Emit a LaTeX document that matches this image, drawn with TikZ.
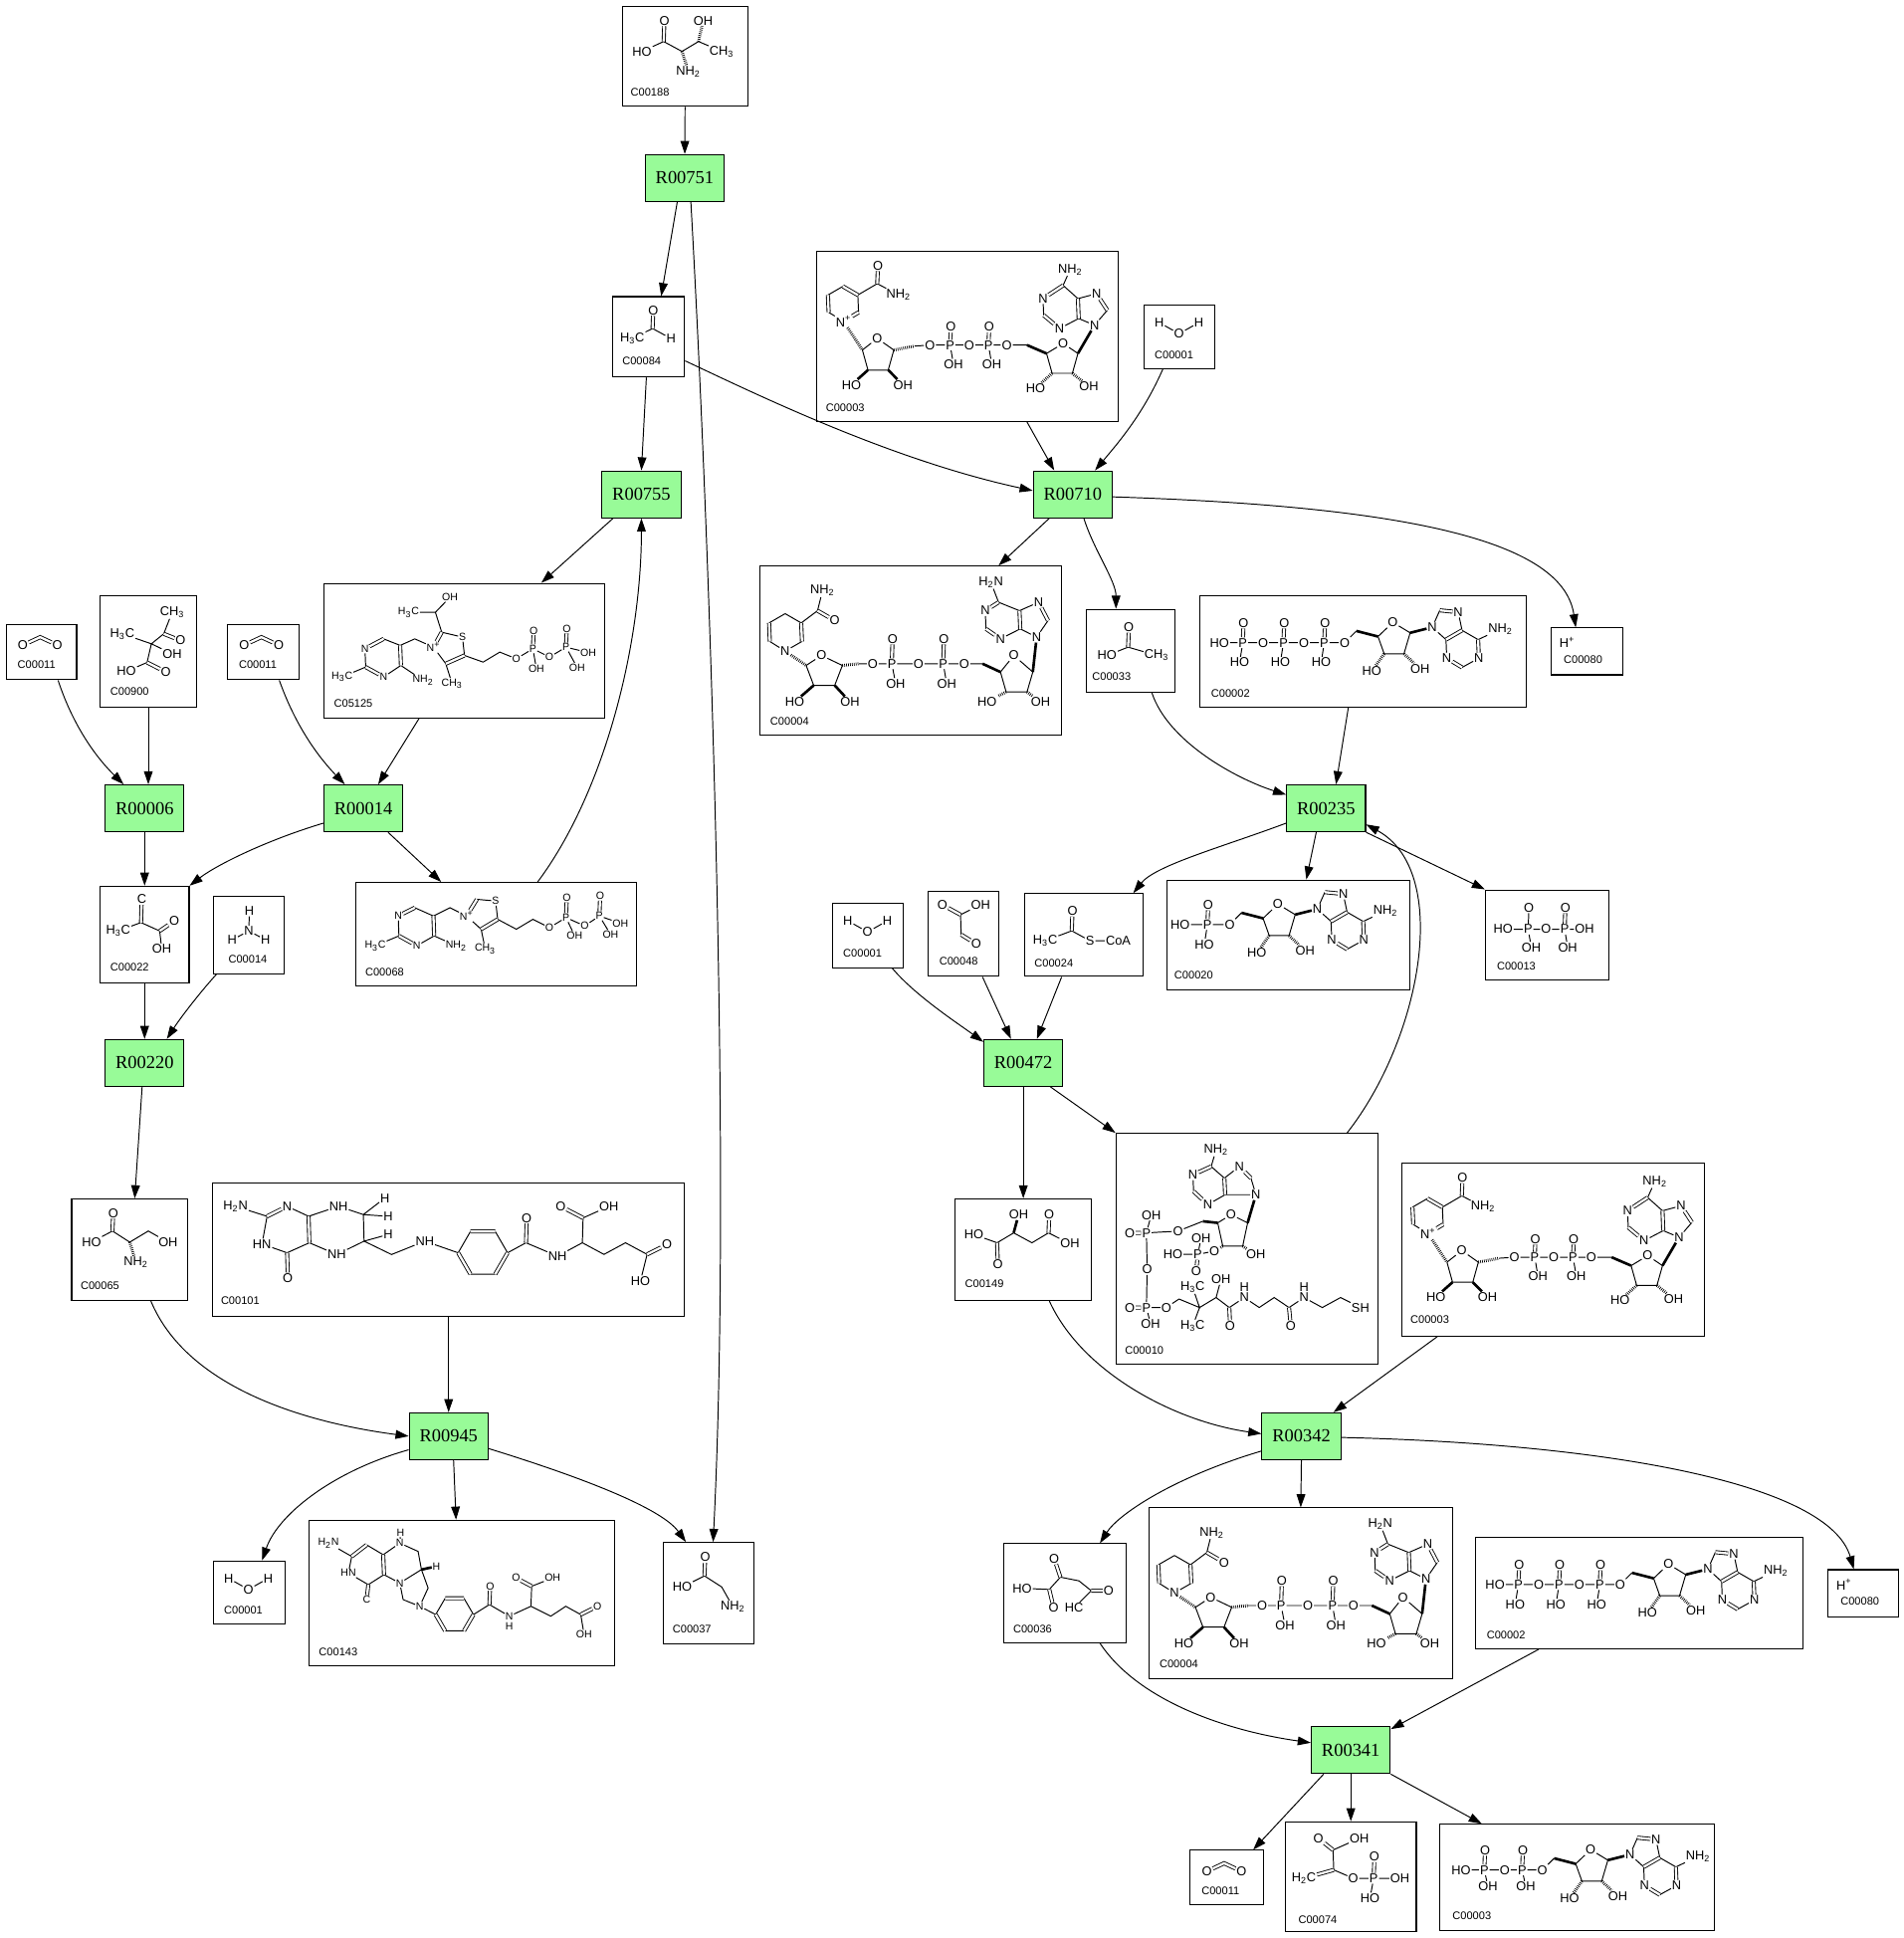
\documentclass[tikz,border=0pt]{standalone}
\usepackage{fontspec}
\setmainfont{Liberation Serif}
\newfontfamily\sansf{Liberation Sans}
\usepackage{tikz}
\usetikzlibrary{fit,calc,arrows.meta}
\definecolor{rgreen}{HTML}{98FB98}
\newcommand\rfont{\fontsize{10.5}{12}\selectfont\rmfamily}
\newcommand\idfont{\fontsize{6.3}{7}\selectfont\sansf}
\newcommand\atomfont{\fontsize{7.3}{8}\selectfont\sansf}
\newcommand\atomsfont{\fontsize{6}{7}\selectfont\sansf}
\newcommand\ssub[1]{\textsubscript{#1}}
\newcommand\ssup[1]{\textsuperscript{#1}}
\tikzset{
  reac/.style={draw, line width=0.6pt, fill=rgreen, minimum width=45.1pt, minimum height=26.8pt, inner sep=0pt, font=\rfont},
  cpd/.style={draw, line width=0.6pt, inner sep=0pt},
  cid/.style={font=\idfont, anchor=base west, inner sep=0pt},
  atom/.style={font=\atomfont, inner sep=0.4pt},
  atoms/.style={font=\atomsfont, inner sep=0.3pt},
  bond/.style={line width=0.55pt},
  dbl/.style={double, double distance=1.3pt, line width=0.5pt},
  wedge/.style={line width=1.5pt},
  hash/.style={line width=1.7pt, dash pattern=on 0.4pt off 0.7pt},
  arr/.style={-{Triangle[length=7.5pt,width=5pt]}, line width=0.55pt},
}
\newcommand\cpdbox[5]{\node[cpd, fit={(#2,#3) (#4,#5)}] (#1) {};}
% small molecules used more than once
\newcommand\water{%
  \node[atom] (h1) at (12,14) {H};
  \node[atom] (o) at (28,23) {O};
  \node[atom] (h2) at (44,14) {H};
  \draw[bond] (h1) -- (o) -- (h2);
  \node[cid] at (8,43) {C00001};}
\newcommand\carbdiox{%
  \node[atom] (o1) at (13.5,17) {O};
  \coordinate (c) at (27.5,10.5);
  \node[atom] (o2) at (41.5,17) {O};
  \draw[dbl] (o1) -- (c) -- (o2);
  \node[cid] at (9,36) {C00011};}
\newcommand\hplus{%
  \node[atom, anchor=west] at (6,12) {H\ssup{+}};
  \node[cid] at (10,29) {C00080};}
% adenosine, starting at the 5' oxygen #1
\newcommand\adenosine[1]{%
  \coordinate (r5) at (9.5,-9.5);
  \coordinate (r4) at (27,-5);
  \node[atom] (ro) at (39,-16.5) {O};
  \coordinate (r1) at (53,-8);
  \coordinate (r2) at (48,9);
  \coordinate (r3) at (32,9);
  \node[atom] (rh3) at (22,23) {HO};
  \node[atom] (rh2) at (61,21) {OH};
  \node[atom] (n9) at (70.9,-12.5) {N};
  \coordinate (c8) at (77,-26.2);
  \node[atom] (n7) at (91.9,-24.7) {N};
  \coordinate (c5) at (95,-10);
  \coordinate (c4) at (82,-2.5);
  \coordinate (c6) at (108,-2.5);
  \node[atom] (n1) at (108.6,12.5) {N};
  \coordinate (c2) at (95,20);
  \node[atom] (n3) at (82.6,12.5) {N};
  \node[atom] (nh) at (126,-11) {NH\ssub2};
  \draw[bond] (#1) -- (r5) (r4) -- (ro) -- (r1) -- (r2) -- (r3) -- (r4);
  \draw[wedge] (r5) -- (r4) (r1) -- (n9);
  \draw[hash] (r3) -- (rh3) (r2) -- (rh2);
  \draw[bond] (n9) -- (c8) (n7) -- (c5) (c4) -- (n9) (c5) -- (c6) (n1) -- (c2) (n3) -- (c4) (c6) -- (nh);
  \draw[dbl] (c8) -- (n7) (c4) -- (c5) (c6) -- (n1) (c2) -- (n3);}
\newcommand\atp{%
  \node[atom] (h0) at (15.7,38) {HO};
  \node[atom] (p1) at (34.6,38) {P};
  \node[atom] (q1) at (51.1,38) {O};
  \node[atom] (p2) at (67.5,38) {P};
  \node[atom] (q2) at (84,38) {O};
  \node[atom] (p3) at (100.5,38) {P};
  \node[atom] (q3) at (117,38) {O};
  \node[atom] (t1) at (35.2,22) {O};
  \node[atom] (t2) at (68.1,22) {O};
  \node[atom] (t3) at (101.1,22) {O};
  \node[atom] (u1) at (32,54) {HO};
  \node[atom] (u2) at (65,54) {HO};
  \node[atom] (u3) at (98,54) {HO};
  \draw[bond] (h0) -- (p1) -- (q1) -- (p2) -- (q2) -- (p3) -- (q3) (p1) -- (u1) (p2) -- (u2) (p3) -- (u3);
  \draw[dbl] (p1) -- (t1) (p2) -- (t2) (p3) -- (t3);
  \begin{scope}[shift={(117,38)}]\adenosine{q3}\end{scope}
  \node[cid] at (8.7,82) {C00002};}
\newcommand\nadplus{%
  \coordinate (a1) at (21,28.7);
  \coordinate (a2) at (33.1,35.7);
  \coordinate (a3) at (33.7,49.7);
  \node[atom] (np) at (21.5,57) {N\ssup{+}};
  \coordinate (a5) at (9.5,49.7);
  \coordinate (a6) at (8.9,35.7);
  \coordinate (k) at (48.8,26.5);
  \node[atom] (o) at (49.4,11.8) {O};
  \node[atom] (nh) at (66,35.5) {NH\ssub2};
  \draw[bond] (a2) -- (a3) (np) -- (a5) (a6) -- (a1) (a2) -- (k) -- (nh);
  \draw[dbl] (a1) -- (a2) (a3) -- (np) (a5) -- (a6) (k) -- (o);
  \node[atom] (ro) at (48.8,70.8) {O};
  \coordinate (r1) at (36.8,80.2);
  \coordinate (r2) at (41.3,96.4);
  \coordinate (r3) at (57.7,96.4);
  \coordinate (r4) at (62.2,80.2);
  \draw[bond] (r1) -- (ro) -- (r4) -- (r3) -- (r2) -- (r1);
  \draw[hash] (np) -- (r1);
  \node[atom] (h2) at (27.9,108.4) {HO};
  \node[atom] (h3) at (69.6,108.4) {OH};
  \draw[wedge] (r2) -- (h2) (r3) -- (h3);
  \coordinate (m) at (79,77);
  \node[atom] (q1) at (91.4,76.2) {O};
  \node[atom] (p1) at (107.8,76.2) {P};
  \node[atom] (q2) at (123.3,76.2) {O};
  \node[atom] (p2) at (138.8,76.2) {P};
  \node[atom] (q3) at (153.6,76.2) {O};
  \node[atom] (t1) at (108.4,61.5) {O};
  \node[atom] (u1) at (110.5,91.8) {OH};
  \node[atom] (t2) at (139.4,61.5) {O};
  \node[atom] (u2) at (141.5,91.8) {OH};
  \coordinate (s5) at (170,76.2);
  \draw[hash] (r4) -- (m);
  \draw[bond] (m) -- (q1) -- (p1) -- (q2) -- (p2) -- (q3) -- (s5) (p1) -- (u1) (p2) -- (u2);
  \draw[dbl] (p1) -- (t1) (p2) -- (t2);
  \node[atom] (so) at (199.2,74.9) {O};
  \coordinate (s4) at (185.8,83);
  \coordinate (s3) at (190.3,99);
  \coordinate (s2) at (206.7,99);
  \coordinate (s1) at (211.2,83);
  \draw[wedge] (s5) -- (s4);
  \draw[bond] (s4) -- (so) -- (s1) -- (s2) -- (s3) -- (s4);
  \node[atom] (g3) at (176.9,111.1) {HO};
  \node[atom] (g2) at (220.1,109.8) {OH};
  \draw[hash] (s3) -- (g3) (s2) -- (g2);
  \coordinate (b6) at (199.2,27.9);
  \node[atom] (bn) at (205,15) {NH\ssub2};
  \node[atom] (b1) at (182.9,38.6) {N};
  \coordinate (b2) at (183.5,52.1);
  \node[atom] (b3) at (196.3,62.8) {N};
  \coordinate (b4) at (211.8,54.7);
  \coordinate (b5) at (211.2,38.6);
  \node[atom] (b7) at (226.2,34.6) {N};
  \coordinate (b8) at (235,48);
  \node[atom] (b9) at (224.6,60.1) {N};
  \draw[bond] (b6) -- (bn) (b1) -- (b2) (b3) -- (b4) (b5) -- (b6) (b5) -- (b7) (b8) -- (b9) -- (b4);
  \draw[dbl] (b6) -- (b1) (b2) -- (b3) (b4) -- (b5) (b7) -- (b8);
  \draw[wedge] (b9) -- (s1);
  \node[cid] at (7,130) {C00003};}
\newcommand\nadh{%
  \coordinate (a1) at (20.3,38.5);
  \coordinate (a2) at (33.3,46);
  \coordinate (a3) at (33.9,61);
  \node[atom] (na) at (20.3,68.8) {N};
  \coordinate (a5) at (7.9,61);
  \coordinate (a6) at (7.3,46);
  \coordinate (k) at (46.5,36.1);
  \node[atom] (nh) at (50.5,20) {NH\ssub2};
  \node[atom] (o) at (60.4,44.1) {O};
  \draw[bond] (a1) -- (a2) (a3) -- (na) -- (a5) (a6) -- (a1) (a2) -- (k) -- (nh);
  \draw[dbl] (a2) -- (a3) (a5) -- (a6) (k) -- (o);
  \node[atom] (ro) at (49.6,72.3) {O};
  \coordinate (r1) at (37.3,80.4);
  \coordinate (r2) at (43.4,96.5);
  \coordinate (r3) at (60.4,96.5);
  \coordinate (r4) at (66.6,80.4);
  \draw[bond] (r1) -- (ro) -- (r4) -- (r3) -- (r2) -- (r1);
  \draw[hash] (na) -- (r1);
  \node[atom] (h2) at (28,109.9) {HO};
  \node[atom] (h3) at (72.7,109.9) {OH};
  \draw[wedge] (r2) -- (h2) (r3) -- (h3);
  \coordinate (m) at (80,79);
  \node[atom] (q1) at (91.2,79) {O};
  \node[atom] (p1) at (106.6,79) {P};
  \node[atom] (t1) at (107.2,58.9) {O};
  \node[atom] (u1) at (109.7,95.1) {OH};
  \node[atom] (q2) at (128.2,79) {O};
  \node[atom] (p2) at (148.2,79) {P};
  \node[atom] (t2) at (148.8,58.9) {O};
  \node[atom] (u2) at (151,95.1) {OH};
  \node[atom] (q3) at (165.2,79) {O};
  \coordinate (s5) at (180,79);
  \draw[hash] (r4) -- (m);
  \draw[bond] (m) -- (q1) -- (p1) -- (q2) -- (p2) -- (q3) -- (s5) (p1) -- (u1) (p2) -- (u2);
  \draw[dbl] (p1) -- (t1) (p2) -- (t2);
  \node[atom] (so) at (205.3,72.3) {O};
  \coordinate (s4) at (194.5,85.7);
  \coordinate (s3) at (199.1,101.8);
  \coordinate (s2) at (216,101.8);
  \coordinate (s1) at (220.7,85.7);
  \draw[wedge] (s5) -- (s4);
  \draw[bond] (s4) -- (so) -- (s1) -- (s2) -- (s3) -- (s4);
  \node[atom] (g3) at (183.7,109.9) {HO};
  \node[atom] (g2) at (226.9,109.9) {OH};
  \draw[hash] (s3) -- (g3) (s2) -- (g2);
  \node[atom] (bn) at (186.8,13.2) {H\ssub2N};
  \coordinate (b6) at (193,29.3);
  \node[atom] (b1) at (182.2,36.1) {N};
  \coordinate (b2) at (182.8,50.8);
  \node[atom] (b3) at (194.5,58.9) {N};
  \coordinate (b4) at (210.5,50.8);
  \coordinate (b5) at (209.9,36.1);
  \node[atom] (b7) at (225.3,29.3) {N};
  \coordinate (b8) at (233,44.1);
  \node[atom] (b9) at (223.8,57.5) {N};
  \draw[bond] (b6) -- (bn) (b1) -- (b2) (b3) -- (b4) (b5) -- (b6) (b5) -- (b7) (b8) -- (b9) -- (b4);
  \draw[dbl] (b6) -- (b1) (b2) -- (b3) (b4) -- (b5) (b7) -- (b8);
  \draw[wedge] (b9) -- (s1);
  \node[cid] at (8,129) {C00004};}

\begin{document}
\begin{tikzpicture}[x=0.02483cm, y=-0.02483cm]
  \useasboundingbox (0,0) rectangle (1540,1568);

  % reactions
  \node[reac] (r00751) at (554,144) {R00751};
  \node[reac] (r00755) at (519,400) {R00755};
  \node[reac] (r00710) at (868,400) {R00710};
  \node[reac] (r00006) at (117,654) {R00006};
  \node[reac] (r00014) at (294,654) {R00014};
  \node[reac] (r00235) at (1073,654) {R00235};
  \node[reac] (r00220) at (117,860) {R00220};
  \node[reac] (r00472) at (828,860) {R00472};
  \node[reac] (r00945) at (363,1162) {R00945};
  \node[reac] (r00342) at (1053,1162) {R00342};
  \node[reac] (r00341) at (1093,1416) {R00341};

  % compounds
  \cpdbox{c00188}{504}{5}{605}{86}
  \cpdbox{c00084}{496}{240}{554}{305}
  \cpdbox{c00003a}{661}{203}{905}{341}
  \cpdbox{c00001a}{926}{247}{983}{298}
  \cpdbox{c00004a}{615}{458}{859}{595}
  \cpdbox{c00033}{879}{493}{951}{560}
  \cpdbox{c00002a}{971}{482}{1235}{572}
  \cpdbox{c00080a}{1255}{508}{1313}{546}
  \cpdbox{c00011a}{5}{505}{62}{550}
  \cpdbox{c00900}{81}{482}{159}{572}
  \cpdbox{c00011b}{184}{505}{242}{550}
  \cpdbox{c05125}{262}{472}{489}{581}
  \cpdbox{c00022}{81}{717}{153}{795}
  \cpdbox{c00014}{173}{725}{230}{788}
  \cpdbox{c00068}{288}{714}{515}{798}
  \cpdbox{c00001b}{674}{731}{731}{783}
  \cpdbox{c00048}{751}{721}{808}{790}
  \cpdbox{c00024}{829}{723}{925}{790}
  \cpdbox{c00020}{944}{712}{1141}{801}
  \cpdbox{c00013}{1202}{720}{1302}{793}
  \cpdbox{c00010}{903}{917}{1115}{1104}
  \cpdbox{c00149}{773}{970}{883}{1052}
  \cpdbox{c00003b}{1134}{941}{1379}{1081}
  \cpdbox{c00065}{58}{970}{152}{1052}
  \cpdbox{c00101}{172}{957}{554}{1065}
  \cpdbox{c00001c}{173}{1263}{231}{1314}
  \cpdbox{c00143}{250}{1230}{497}{1348}
  \cpdbox{c00037}{537}{1248}{610}{1330}
  \cpdbox{c00036}{812}{1249}{911}{1329}
  \cpdbox{c00004b}{930}{1220}{1175}{1358}
  \cpdbox{c00002b}{1194}{1244}{1459}{1334}
  \cpdbox{c00080b}{1479}{1270}{1536}{1308}
  \cpdbox{c00011c}{963}{1497}{1022}{1541}
  \cpdbox{c00074}{1040}{1474}{1146}{1563}
  \cpdbox{c00003c}{1165}{1476}{1387}{1562}

  % structures
  \begin{scope}[shift={(504,5)}] % threonine
    \node[atom] (ho) at (15.5,36.6) {HO};
    \coordinate (c1) at (33,28.6);
    \node[atom] (o) at (33.6,11.6) {O};
    \coordinate (c2) at (47.8,36.6);
    \node[atom] (n) at (53,52.7) {NH\ssub2};
    \coordinate (c3) at (61.2,28.6);
    \node[atom] (oh) at (65,11.6) {OH};
    \node[atom] (me) at (80,36.6) {CH\ssub3};
    \draw[bond] (ho) -- (c1) -- (c2) -- (c3) -- (me);
    \draw[dbl] (c1) -- (o);
    \draw[hash] (c2) -- (n) (c3) -- (oh);
    \node[cid] at (6,72.5) {C00188};
  \end{scope}
  \begin{scope}[shift={(496,240)}] % acetaldehyde
    \node[atom] (m) at (15.6,33.9) {H\ssub3C};
    \coordinate (c) at (32,25.8);
    \node[atom] (o) at (32.6,11) {O};
    \node[atom] (h) at (46.9,33.9) {H};
    \draw[bond] (m) -- (c) -- (h);
    \draw[dbl] (c) -- (o);
    \node[cid] at (7.3,55.5) {C00084};
  \end{scope}
  \begin{scope}[shift={(661,203)}]\nadplus\end{scope}
  \begin{scope}[shift={(1134,941)}]\nadplus\end{scope}
  \begin{scope}[shift={(926,247)}]\water\end{scope}
  \begin{scope}[shift={(674,731)}]\water\end{scope}
  \begin{scope}[shift={(173,1263)}]\water\end{scope}
  \begin{scope}[shift={(615,458)}]\nadh\end{scope}
  \begin{scope}[shift={(930,1220)}]\nadh\end{scope}
  \begin{scope}[shift={(971,482)}]\atp\end{scope}
  \begin{scope}[shift={(1194,1244)}]\atp\end{scope}
  \begin{scope}[shift={(1255,508)}]\hplus\end{scope}
  \begin{scope}[shift={(1479,1270)}]\hplus\end{scope}
  \begin{scope}[shift={(5,505)}]\carbdiox\end{scope}
  \begin{scope}[shift={(184,505)}]\carbdiox\end{scope}
  \begin{scope}[shift={(963,1497)}]\carbdiox\end{scope}
  \begin{scope}[shift={(879,493)}] % acetate
    \node[atom] (o) at (34.4,14.5) {O};
    \coordinate (c) at (33.8,30.6);
    \node[atom] (ho) at (16.8,37.3) {HO};
    \node[atom] (m) at (56.9,37.3) {CH\ssub3};
    \draw[bond] (ho) -- (c) -- (m);
    \draw[dbl] (c) -- (o);
    \node[cid] at (4.5,57.5) {C00033};
  \end{scope}
  \begin{scope}[shift={(81,482)}] % acetolactate
    \node[atom] (m1) at (58.3,13.4) {CH\ssub3};
    \coordinate (c1) at (51.5,30.8);
    \node[atom] (o1) at (65,36.2) {O};
    \coordinate (c2) at (41.5,38.9);
    \node[atom] (m2) at (18,30.8) {H\ssub3C};
    \node[atom] (oh) at (58.3,47) {OH};
    \coordinate (c3) at (38,54);
    \node[atom] (ho) at (21.3,61.2) {HO};
    \node[atom] (o2) at (53.2,61.7) {O};
    \draw[bond] (m2) -- (c2) -- (c1) -- (m1) (c2) -- (oh) (c2) -- (c3) -- (ho);
    \draw[dbl] (c1) -- (o1) (c3) -- (o2);
    \node[cid] at (8,80.5) {C00900};
  \end{scope}
  \begin{scope}[shift={(262,472)}] % hydroxyethyl-ThPP
    \node[atoms] (oh) at (102,11.3) {OH};
    \coordinate (ca) at (90.3,23.4);
    \node[atoms] (m1) at (68.5,23.4) {H\ssub3C};
    \coordinate (t2) at (95.4,39.5);
    \node[atoms] (s) at (112.2,43.5) {S};
    \coordinate (t5) at (113.8,58.3);
    \coordinate (t4) at (98.7,65);
    \node[atoms] (t3) at (88.7,51.6) {N\ssup{+}};
    \node[atoms] (m2) at (103.8,81.1) {CH\ssub3};
    \coordinate (cb) at (73.6,44.9);
    \coordinate (p5) at (61.8,50.2);
    \coordinate (p4) at (62.4,66.4);
    \node[atoms] (nh) at (80.3,78.4) {NH\ssub2};
    \node[atoms] (p3) at (48.4,75.7) {N};
    \coordinate (p2) at (33.9,67.7);
    \node[atoms] (m3) at (14.8,75.7) {H\ssub3C};
    \node[atoms] (p1) at (33.3,52.9) {N};
    \coordinate (p6) at (48.4,44.9);
    \coordinate (x1) at (128.9,63.7);
    \coordinate (x2) at (142.4,55.6);
    \node[atoms] (q1) at (155.8,61) {O};
    \node[atoms] (pa) at (169.2,52.9) {P};
    \node[atoms] (ta) at (169.8,38.2) {O};
    \node[atoms] (ua) at (172,69) {OH};
    \node[atoms] (q2) at (182.6,59.6) {O};
    \node[atoms] (pb) at (196,51.6) {P};
    \node[atoms] (tb) at (196.6,36.8) {O};
    \node[atoms] (ub) at (214,56) {OH};
    \node[atoms] (vb) at (205,68) {OH};
    \draw[bond] (oh) -- (ca) -- (m1) (ca) -- (t2) -- (s) -- (t5) (t4) -- (t3) (t4) -- (m2) (t3) -- (cb) -- (p5)
      (p1) -- (p2) (p3) -- (p4) (p5) -- (p6) (p2) -- (m3) (p4) -- (nh)
      (t5) -- (x1) -- (x2) -- (q1) -- (pa) -- (q2) -- (pb) -- (ub) (pa) -- (ua) (pb) -- (vb);
    \draw[dbl] (t2) -- (t3) (t5) -- (t4) (p6) -- (p1) (p2) -- (p3) (p4) -- (p5) (pa) -- (ta) (pb) -- (tb);
    \node[cid] at (8,100) {C05125};
  \end{scope}
  \begin{scope}[shift={(288,714)}] % ThPP
    \coordinate (p6) at (47.6,20.4);
    \node[atoms] (p1) at (34.2,27.1) {N};
    \coordinate (p2) at (34.8,43.2);
    \node[atoms] (m3) at (15.7,51.2) {H\ssub3C};
    \node[atoms] (p3) at (49.2,51.2) {N};
    \coordinate (p4) at (63.3,43.2);
    \node[atoms] (nh) at (81.1,51.2) {NH\ssub2};
    \coordinate (p5) at (62.7,27.1);
    \coordinate (cb) at (76.1,20.4);
    \node[atoms] (t3) at (89.5,27.1) {N\ssup{+}};
    \coordinate (t2) at (97.9,13.6);
    \node[atoms] (s) at (113,15) {S};
    \coordinate (t5) at (114.7,29.8);
    \coordinate (t4) at (101.3,37.8);
    \node[atoms] (m2) at (104.6,53.9) {CH\ssub3};
    \coordinate (x1) at (129.8,37.8);
    \coordinate (x2) at (143.2,29.8);
    \node[atoms] (q1) at (156.6,36.5) {O};
    \node[atoms] (pa) at (170,28.4) {P};
    \node[atoms] (ta) at (170.6,12.3) {O};
    \node[atoms] (ua) at (177,43.2) {OH};
    \node[atoms] (q2) at (185.1,35.1) {O};
    \node[atoms] (pb) at (197,27.1) {P};
    \node[atoms] (tb) at (197.6,11) {O};
    \node[atoms] (ub) at (214,33) {OH};
    \node[atoms] (vb) at (206,42) {OH};
    \draw[bond] (t2) -- (s) -- (t5) (t4) -- (t3) (t4) -- (m2) (t3) -- (cb) -- (p5)
      (p1) -- (p2) (p3) -- (p4) (p5) -- (p6) (p2) -- (m3) (p4) -- (nh)
      (t5) -- (x1) -- (x2) -- (q1) -- (pa) -- (q2) -- (pb) -- (ub) (pa) -- (ua) (pb) -- (vb);
    \draw[dbl] (t2) -- (t3) (t5) -- (t4) (p6) -- (p1) (p2) -- (p3) (p4) -- (p5) (pa) -- (ta) (pb) -- (tb);
    \node[cid] at (7.3,75.5) {C00068};
  \end{scope}
  \begin{scope}[shift={(81,717)}] % pyruvate
    \node[atom] (o1) at (33.7,10.6) {C};
    \coordinate (c2) at (33.1,29.4);
    \node[atom] (m) at (14.6,36.2) {H\ssub3C};
    \coordinate (c1) at (48.2,36.2);
    \node[atom] (o2) at (60,28.1) {O};
    \node[atom] (oh) at (49.9,50.9) {OH};
    \draw[bond] (m) -- (c2) -- (c1) -- (oh);
    \draw[dbl] (c2) -- (o1) (c1) -- (o2);
    \node[cid] at (8,68.5) {C00022};
  \end{scope}
  \begin{scope}[shift={(173,725)}] % ammonia
    \node[atom] (h1) at (28.8,12) {H};
    \node[atom] (n) at (28.3,28.2) {N};
    \node[atom] (h2) at (14.9,35.4) {H};
    \node[atom] (h3) at (41.8,35.4) {H};
    \draw[bond] (h1) -- (n) -- (h2) (n) -- (h3);
    \node[cid] at (11.6,54) {C00014};
  \end{scope}
  \begin{scope}[shift={(751,721)}] % glyoxylate
    \node[atom] (o1) at (11.5,11) {O};
    \coordinate (c1) at (26.2,19.1);
    \node[atom] (oh) at (42.4,11) {OH};
    \coordinate (c2) at (26.7,35.2);
    \node[atom] (o2) at (38.9,42.7) {O};
    \draw[bond] (c1) -- (oh) (c1) -- (c2);
    \draw[dbl] (c1) -- (o1) (c2) -- (o2);
    \node[cid] at (8.8,60) {C00048};
  \end{scope}
  \begin{scope}[shift={(829,723)}] % acetyl-CoA
    \node[atom] (o) at (38.8,14) {O};
    \coordinate (c) at (38.2,30.1);
    \node[atom] (m) at (16.7,38.2) {H\ssub3C};
    \node[atom] (s) at (53,38.2) {S};
    \node[atom] (coa) at (75.8,38.2) {CoA};
    \draw[bond] (m) -- (c) -- (s) -- (coa);
    \draw[dbl] (c) -- (o);
    \node[cid] at (7.8,59) {C00024};
  \end{scope}
  \begin{scope}[shift={(944,712)}] % AMP
    \node[atom] (h0) at (11,36) {HO};
    \node[atom] (p1) at (33,36) {P};
    \node[atom] (t1) at (33.6,20) {O};
    \node[atom] (u1) at (30.5,52) {HO};
    \node[atom] (q1) at (51,36) {O};
    \draw[bond] (h0) -- (p1) -- (q1) (p1) -- (u1);
    \draw[dbl] (p1) -- (t1);
    \begin{scope}[shift={(51,36)}]\adenosine{q1}\end{scope}
    \node[cid] at (6,80) {C00020};
  \end{scope}
  \begin{scope}[shift={(1202,720)}] % diphosphate
    \node[atom] (h0) at (14.3,31.8) {HO};
    \node[atom] (p1) at (34.5,31.8) {P};
    \node[atom] (t1) at (35.1,14.3) {O};
    \node[atom] (u1) at (37,46.5) {OH};
    \node[atom] (q) at (49,31.8) {O};
    \node[atom] (p2) at (64,31.8) {P};
    \node[atom] (t2) at (64.6,14.3) {O};
    \node[atom] (w2) at (80.1,31.8) {OH};
    \node[atom] (u2) at (66.5,46.5) {OH};
    \draw[bond] (h0) -- (p1) -- (q) -- (p2) -- (w2) (p1) -- (u1) (p2) -- (u2) (p1) -- (t1);
    \draw[dbl] (p2) -- (t2);
    \node[cid] at (9,64.5) {C00013};
  \end{scope}
  \begin{scope}[shift={(773,970)}] % malate
    \node[atom] (ho) at (15,28.8) {HO};
    \coordinate (c1) at (33.8,35.5);
    \node[atom] (o1) at (34.4,53) {O};
    \coordinate (c2) at (47.2,27.5);
    \node[atom] (oh) at (51.2,12.7) {OH};
    \coordinate (c3) at (62,35.5);
    \coordinate (c4) at (75.4,27.5);
    \node[atom] (o4) at (76,12.7) {O};
    \node[atom] (oh4) at (92.8,36.3) {OH};
    \draw[bond] (ho) -- (c1) -- (c2) -- (c3) -- (c4) -- (oh4);
    \draw[dbl] (c1) -- (o1) (c4) -- (o4);
    \draw[wedge] (c2) -- (oh);
    \node[cid] at (7.6,72) {C00149};
  \end{scope}
  \begin{scope}[shift={(903,917)}] % CoA
    \node[atom] (bn) at (81,13.3) {NH\ssub2};
    \coordinate (b6) at (77,26.8);
    \node[atom] (b1) at (62.2,33.5) {N};
    \coordinate (b2) at (62.8,46.9);
    \node[atom] (b3) at (74.3,57.6) {N};
    \coordinate (b4) at (88.3,49.6);
    \coordinate (b5) at (87.7,36.2);
    \node[atom] (b7) at (99.8,26.8) {N};
    \coordinate (b8) at (109.2,36.2);
    \node[atom] (b9) at (113.2,49.6) {N};
    \node[atom] (ro) at (93.1,65.7) {O};
    \coordinate (r4) at (82.3,72.4);
    \coordinate (r3) at (86.4,91.2);
    \coordinate (r2) at (102.5,91.2);
    \coordinate (r1) at (106.5,72.4);
    \node[atom] (rh) at (113.2,97.9) {OH};
    \node[atom] (e1) at (79.6,95.2) {O};
    \node[atom] (e2) at (66.2,97.9) {P};
    \node[atom] (e3) at (68.9,84.5) {OH};
    \node[atom] (e4) at (46.1,97.9) {HO};
    \node[atom] (e5) at (64.9,111.3) {O};
    \coordinate (r5) at (70.3,71.1);
    \node[atom] (f1) at (50.1,79.1) {O};
    \node[atom] (pa) at (24.6,80.5) {P};
    \node[atom] (f2) at (28.5,66) {OH};
    \node[atom] (f3) at (11.2,80.5) {O};
    \node[atom] (f4) at (25.2,110) {O};
    \node[atom] (pb) at (24.6,140.9) {P};
    \node[atom] (f5) at (11.2,140.9) {O};
    \node[atom] (f6) at (28,154.3) {OH};
    \node[atom] (f7) at (40.7,140.9) {O};
    \coordinate (k1) at (51,134);
    \coordinate (k2) at (67.6,140.9);
    \node[atom] (k3) at (62,124.5) {H\ssub3C};
    \node[atom] (k4) at (62,156) {H\ssub3C};
    \coordinate (k5) at (81,132.8);
    \node[atom] (k6) at (85,118) {OH};
    \coordinate (k7) at (91.7,140.9);
    \node[atom] (k8) at (92.3,155.6) {O};
    \node[atom] (n1) at (103.8,132.8) {N};
    \node[atom] at (103.8,124.3) {H};
    \coordinate (k9) at (115.9,140.9);
    \coordinate (k10) at (128,132.8);
    \coordinate (k11) at (140,140.9);
    \node[atom] (k12) at (141.4,155.6) {O};
    \node[atom] (n2) at (152.1,132.8) {N};
    \node[atom] at (152.1,124.3) {H};
    \coordinate (k13) at (166.9,140.9);
    \coordinate (k14) at (181.7,132.8);
    \node[atom] (sh) at (197.8,140.9) {SH};
    \draw[bond] (b6) -- (bn) (b1) -- (b2) (b3) -- (b4) (b5) -- (b6) (b5) -- (b7) (b8) -- (b9) -- (b4)
      (r4) -- (ro) -- (r1) -- (r2) -- (r3) -- (r4) (e1) -- (e2) -- (e3) (e2) -- (e4)
      (r5) -- (f1) -- (pa) -- (f2) (pa) -- (f4) -- (pb) -- (f6) (pb) -- (f7) -- (k1) -- (k2) -- (k3) (k2) -- (k4)
      (k2) -- (k5) -- (k6) (k5) -- (k7) -- (n1) -- (k9) -- (k10) -- (k11) -- (n2) -- (k13) -- (k14) -- (sh);
    \draw[dbl] (b6) -- (b1) (b2) -- (b3) (b4) -- (b5) (b7) -- (b8) (e2) -- (e5) (pa) -- (f3) (pb) -- (f5) (k7) -- (k8) (k11) -- (k12);
    \draw[wedge] (b9) -- (r1) (r4) -- (r5);
    \draw[hash] (r2) -- (rh) (r3) -- (e1);
    \node[cid] at (7,178.5) {C00010};
  \end{scope}
  \begin{scope}[shift={(58,970)}] % serine
    \node[atom] (ho) at (16,35) {HO};
    \coordinate (c1) at (33,26);
    \node[atom] (o) at (33.6,11.5) {O};
    \coordinate (c2) at (47,35);
    \node[atom] (n) at (52,51.5) {NH\ssub2};
    \coordinate (c3) at (62,26);
    \node[atom] (oh) at (78,35) {OH};
    \draw[bond] (ho) -- (c1) -- (c2) -- (c3) -- (oh);
    \draw[dbl] (c1) -- (o);
    \draw[hash] (c2) -- (n);
    \node[cid] at (7,73) {C00065};
  \end{scope}
  \begin{scope}[shift={(172,957)}] % tetrahydrofolate
    \node[atom] (a0) at (18.6,19) {H\ssub2N};
    \coordinate (a2) at (44.1,27.1);
    \node[atom] (a3) at (60.3,19) {N};
    \coordinate (a4) at (77.7,27.1);
    \coordinate (a5) at (78.3,48.5);
    \coordinate (a6) at (60.3,56.6);
    \node[atom] (a1) at (40,49.5) {HN};
    \node[atom] (ao) at (60.9,77) {O};
    \node[atom] (b1) at (101.9,19) {NH};
    \node[atom] (b2) at (100.5,58) {NH};
    \coordinate (b3) at (122,25.7);
    \coordinate (b4) at (122.6,47.2);
    \node[atom] (h1) at (139.4,12.3) {H};
    \node[atom] (h2) at (142.1,27.1) {H};
    \node[atom] (h3) at (142.1,41.8) {H};
    \coordinate (b5) at (144.8,58);
    \node[atom] (b6) at (171.7,47.2) {NH};
    \coordinate (z1) at (198.7,56.6);
    \coordinate (z2) at (208.7,39.3);
    \coordinate (z3) at (228.7,39.3);
    \coordinate (z4) at (238.7,56.6);
    \coordinate (z5) at (228.7,73.9);
    \coordinate (z6) at (208.7,73.9);
    \coordinate (d1) at (253.6,48.5);
    \node[atom] (d2) at (254.2,28.4) {O};
    \node[atom] (d3) at (279.1,59.3) {NH};
    \coordinate (d4) at (299.2,48.5);
    \coordinate (d5) at (299.8,28.4);
    \node[atom] (d6) at (281.7,19) {O};
    \node[atom] (d7) at (320.7,19) {OH};
    \coordinate (g1) at (316.7,57.9);
    \coordinate (g2) at (334.1,48.5);
    \coordinate (g3) at (351.6,57.9);
    \node[atom] (g4) at (367.7,49.9) {O};
    \node[atom] (g5) at (346.2,79.4) {HO};
    \draw[bond] (a0) -- (a2) (a3) -- (a4) (a5) -- (a6) -- (a1) -- (a2) (a4) -- (b1) -- (b3) -- (h1) (b3) -- (h2)
      (b3) -- (b4) -- (h3) (a5) -- (b2) -- (b4) -- (b5) -- (b6) -- (z1) (z1) -- (z2) (z3) -- (z4) (z5) -- (z6)
      (z4) -- (d1) -- (d3) -- (d4) -- (d5) -- (d7) (d4) -- (g1) -- (g2) -- (g3) -- (g5);
    \draw[dbl] (a2) -- (a3) (a4) -- (a5) (a6) -- (ao) (z2) -- (z3) (z4) -- (z5) (z6) -- (z1) (d1) -- (d2) (d5) -- (d6) (g3) -- (g4);
    \node[cid] at (6.5,98.5) {C00101};
  \end{scope}
  \begin{scope}[shift={(250,1230)}] % 5,10-methylene-THF
    \node[atoms] (a0) at (15.8,18.5) {H\ssub2N};
    \coordinate (a2) at (34.6,29.3);
    \coordinate (a3) at (46.7,19.9);
    \coordinate (a4) at (60.1,27.9);
    \coordinate (a5) at (60.7,44);
    \coordinate (a6) at (48,52.1);
    \node[atoms] (a1) at (31.9,42.7) {HN};
    \node[atoms] (ao) at (46.7,64.2) {C};
    \node[atoms] (n8) at (73.5,18.5) {N};
    \node[atoms] (h8) at (74.1,10) {H};
    \coordinate (c7) at (88.3,25.2);
    \coordinate (c6) at (91,39.9);
    \node[atoms] (h6) at (103.1,37.3) {H};
    \node[atoms] (n5) at (73.5,50.8) {N};
    \coordinate (c11) at (76.2,64.2);
    \node[atoms] (n10) at (89.6,69.6) {N};
    \coordinate (c9) at (96.4,54.8);
    \coordinate (z1) at (102.5,76.3);
    \coordinate (z2) at (110.2,63.1);
    \coordinate (z3) at (125.4,63.1);
    \coordinate (z4) at (133.1,76.3);
    \coordinate (z5) at (125.4,89.5);
    \coordinate (z6) at (110.2,89.5);
    \coordinate (d1) at (146,68.2);
    \node[atoms] (d2) at (146.6,53.4) {O};
    \node[atoms] (d3) at (162.1,77.6) {N};
    \node[atoms] at (162.1,85.7) {H};
    \coordinate (d4) at (179.6,69.6);
    \coordinate (d5) at (180.2,53.4);
    \node[atoms] (d6) at (167.5,46.7) {O};
    \node[atoms] (d7) at (197.1,46.7) {OH};
    \coordinate (g1) at (195.7,77.6);
    \coordinate (g2) at (207.8,69.6);
    \coordinate (g3) at (219.9,76.3);
    \node[atoms] (g4) at (233.3,69.6) {O};
    \node[atoms] (g5) at (222.6,92.4) {OH};
    \draw[bond] (a0) -- (a2) (a3) -- (a4) (a5) -- (a6) -- (a1) -- (a2) (a4) -- (n8) -- (c7) -- (c6) -- (n5) -- (a5) (n8) -- (h8)
      (c6) -- (c9) -- (n10) -- (c11) -- (n5) (n10) -- (z1) (z1) -- (z2) (z3) -- (z4) (z5) -- (z6)
      (z4) -- (d1) -- (d3) -- (d4) -- (d5) -- (d7) (d4) -- (g1) -- (g2) -- (g3) -- (g5);
    \draw[dbl] (a2) -- (a3) (a4) -- (a5) (a6) -- (ao) (z2) -- (z3) (z4) -- (z5) (z6) -- (z1) (d1) -- (d2) (d5) -- (d6) (g3) -- (g4);
    \draw[wedge] (c6) -- (h6);
    \node[cid] at (7.8,110) {C00143};
  \end{scope}
  \begin{scope}[shift={(537,1248)}] % glycine
    \node[atom] (ho) at (15,36) {HO};
    \coordinate (c1) at (33,27);
    \node[atom] (o) at (33.6,12) {O};
    \coordinate (c2) at (47,36);
    \node[atom] (n) at (56,52) {NH\ssub2};
    \draw[bond] (ho) -- (c1) -- (c2) -- (n);
    \draw[dbl] (c1) -- (o);
    \node[cid] at (7,73) {C00037};
  \end{scope}
  \begin{scope}[shift={(812,1249)}] % oxaloacetate
    \node[atom] (o2) at (41,12) {O};
    \coordinate (c2) at (46,27);
    \coordinate (c1) at (37,37);
    \node[atom] (ho) at (15,36) {HO};
    \node[atom] (o1) at (40.6,52) {O};
    \coordinate (c3) at (61,30);
    \coordinate (c4) at (71,38);
    \node[atom] (o4) at (85,38) {O};
    \node[atom] (hc) at (57,52) {HC};
    \draw[bond] (ho) -- (c1) -- (c2) -- (c3) -- (c4) -- (hc);
    \draw[dbl] (c2) -- (o2) (c1) -- (o1) (c4) -- (o4);
    \node[cid] at (7.6,72) {C00036};
  \end{scope}
  \begin{scope}[shift={(1040,1474)}] % phosphoenolpyruvate
    \node[atom] (o1) at (26.8,13.4) {O};
    \node[atom] (oh) at (59.8,13.4) {OH};
    \coordinate (c1) at (38.6,22.8);
    \coordinate (c2) at (39.2,38.9);
    \node[atom] (m) at (15,45.7) {H\ssub2C};
    \node[atom] (q) at (55,45.7) {O};
    \node[atom] (p) at (71.5,45.7) {P};
    \node[atom] (t) at (72.1,28.2) {O};
    \node[atom] (w) at (92.7,45.7) {OH};
    \node[atom] (u) at (68.5,61.8) {HO};
    \draw[bond] (c1) -- (oh) (c1) -- (c2) -- (q) -- (p) -- (w) (p) -- (u);
    \draw[dbl] (c1) -- (o1) (c2) -- (m) (p) -- (t);
    \node[cid] at (10.3,82) {C00074};
  \end{scope}
  \begin{scope}[shift={(1165,1476)}] % ADP
    \node[atom] (h0) at (17.2,37) {HO};
    \node[atom] (p1) at (36,37) {P};
    \node[atom] (t1) at (36.6,20.8) {O};
    \node[atom] (u1) at (39,50.4) {OH};
    \node[atom] (q1) at (52.5,37) {O};
    \node[atom] (p2) at (66.6,37) {P};
    \node[atom] (t2) at (67.2,20.8) {O};
    \node[atom] (u2) at (69.6,50.4) {OH};
    \node[atom] (q2) at (83,37) {O};
    \draw[bond] (h0) -- (p1) -- (q1) -- (p2) -- (q2) (p1) -- (u1) (p2) -- (u2);
    \draw[dbl] (p1) -- (t1) (p2) -- (t2);
    \begin{scope}[shift={(83,37)}]\adenosine{q2}\end{scope}
    \node[cid] at (10,77) {C00003};
  \end{scope}

  % connectors
  \draw[arr] (c00188) -- (r00751);
  \draw[arr] ($(r00751.south)+(-6,0)$) -- ($(c00084.north)+(10,0)$);
  \draw[arr] ($(r00751.south)+(5,0)$) .. controls (575,450) and (592,950) .. ($(c00037.north)+(3.5,0)$);
  \draw[arr] ($(c00084.south)+(-2,0)$) -- (r00755.north);
  \draw[arr] ($(c00084.east)+(0,19.5)$) .. controls (610,318) and (720,372) .. ($(r00710.west)+(0,-3)$);
  \draw[arr] ($(c00003a.south)+(48,0)$) -- ($(r00710.north)+(-15,0)$);
  \draw[arr] ($(c00001a.south)+(-13.5,0)$) .. controls (925,335) and (905,358) .. ($(r00710.north)+(18,0)$);
  \draw[arr] ($(r00755.south)+(-23,0)$) -- ($(c05125.north)+(62.5,0)$);
  \draw[arr] ($(c00068.north)+(33.5,0)$) .. controls (490,640) and (519,520) .. (r00755.south);
  \draw[arr] ($(r00710.south)+(-19,0)$) -- ($(c00004a.north)+(71,0)$);
  \draw[arr] ($(r00710.south)+(9,0)$) .. controls (885,445) and (903,470) .. ($(c00033.north)+(-12,0)$);
  \draw[arr] ($(r00710.east)+(0,2)$) .. controls (1150,410) and (1265,440) .. ($(c00080a.north)+(-9,0)$);
  \draw[arr] ($(c00033.south)+(17,0)$) .. controls (945,600) and (1000,630) .. ($(r00235.west)+(0,-11)$);
  \draw[arr] ($(c00002a.south)+(-12,0)$) -- ($(r00235.north)+(8,0)$);
  \draw[arr] ($(r00235.west)+(0,12)$) .. controls (990,685) and (935,700) .. ($(c00024.north)+(40,0)$);
  \draw[arr] ($(r00235.south)+(-8,0)$) -- ($(c00020.north)+(14.5,0)$);
  \draw[arr] (r00235.south east) -- (c00013.north west);
  \draw[arr] ($(c00010.north)+(81,0)$) .. controls (1150,840) and (1175,705) .. ($(r00235.east)+(0,13)$);
  \draw[arr] ($(c00011a.south)+(13.5,0)$) .. controls (60,590) and (80,615) .. ($(r00006.north)+(-17,0)$);
  \draw[arr] (c00900.south) -- ($(r00006.north)+(3,0)$);
  \draw[arr] ($(c00011b.south)+(13,0)$) .. controls (240,590) and (260,615) .. ($(r00014.north)+(-15,0)$);
  \draw[arr] ($(c05125.south)+(-36.5,0)$) -- ($(r00014.north)+(12,0)$);
  \draw[arr] (r00006.south) -- (c00022.north);
  \draw[arr] ($(r00014.west)+(0,12)$) .. controls (215,680) and (175,700) .. (c00022.north east);
  \draw[arr] ($(r00014.south)+(20,0)$) -- ($(c00068.north)+(-44.5,0)$);
  \draw[arr] (c00022.south) -- (r00220.north);
  \draw[arr] ($(c00014.south)+(-26.5,0)$) .. controls (160,805) and (145,825) .. ($(r00220.north)+(18,0)$);
  \draw[arr] ($(r00220.south)+(-2,0)$) -- ($(c00065.north)+(4,0)$);
  \draw[arr] ($(c00001b.south)+(19.5,0)$) .. controls (740,805) and (775,828) .. ($(r00472.west)+(0,-17)$);
  \draw[arr] ($(c00048.south)+(15.5,0)$) -- ($(r00472.north)+(-10,0)$);
  \draw[arr] ($(c00024.south)+(-18,0)$) -- ($(r00472.north)+(11,0)$);
  \draw[arr] (r00472.south) -- (c00149.north);
  \draw[arr] ($(r00472.south)+(22,0)$) -- (c00010.north west);
  \draw[arr] ($(c00149.south)+(21,0)$) .. controls (875,1110) and (950,1150) .. ($(r00342.west)+(0,-2)$);
  \draw[arr] ($(c00003b.south)+(-93.5,0)$) -- ($(r00342.north)+(26,0)$);
  \draw[arr] ($(c00065.south)+(17,0)$) .. controls (150,1120) and (240,1150) .. (r00945.west);
  \draw[arr] (c00101.south) -- (r00945.north);
  \draw[arr] ($(r00945.west)+(0,11)$) .. controls (270,1190) and (225,1225) .. ($(c00001c.north)+(10,0)$);
  \draw[arr] ($(r00945.south)+(4,0)$) -- ($(c00143.north)+(-4.5,0)$);
  \draw[arr] ($(r00945.east)+(0,10)$) .. controls (470,1195) and (535,1220) .. ($(c00037.north)+(-18.5,0)$);
  \draw[arr] ($(r00342.west)+(0,12)$) .. controls (950,1195) and (905,1225) .. ($(c00036.north)+(28.5,0)$);
  \draw[arr] (r00342.south) -- (c00004b.north);
  \draw[arr] ($(r00342.east)+(0,1)$) .. controls (1300,1168) and (1480,1200) .. ($(c00080b.north)+(-7.5,0)$);
  \draw[arr] ($(c00036.south)+(28.5,0)$) .. controls (920,1375) and (990,1400) .. ($(r00341.west)+(0,-6)$);
  \draw[arr] ($(c00002b.south)+(-81.5,0)$) -- ($(r00341.east)+(0,-17)$);
  \draw[arr] ($(r00341.south)+(-22,0)$) -- ($(c00011c.north)+(21.5,0)$);
  \draw[arr] (r00341.south) -- (c00074.north);
  \draw[arr] (r00341.south east) -- ($(c00003c.north)+(-77,0)$);
\end{tikzpicture}
\end{document}
